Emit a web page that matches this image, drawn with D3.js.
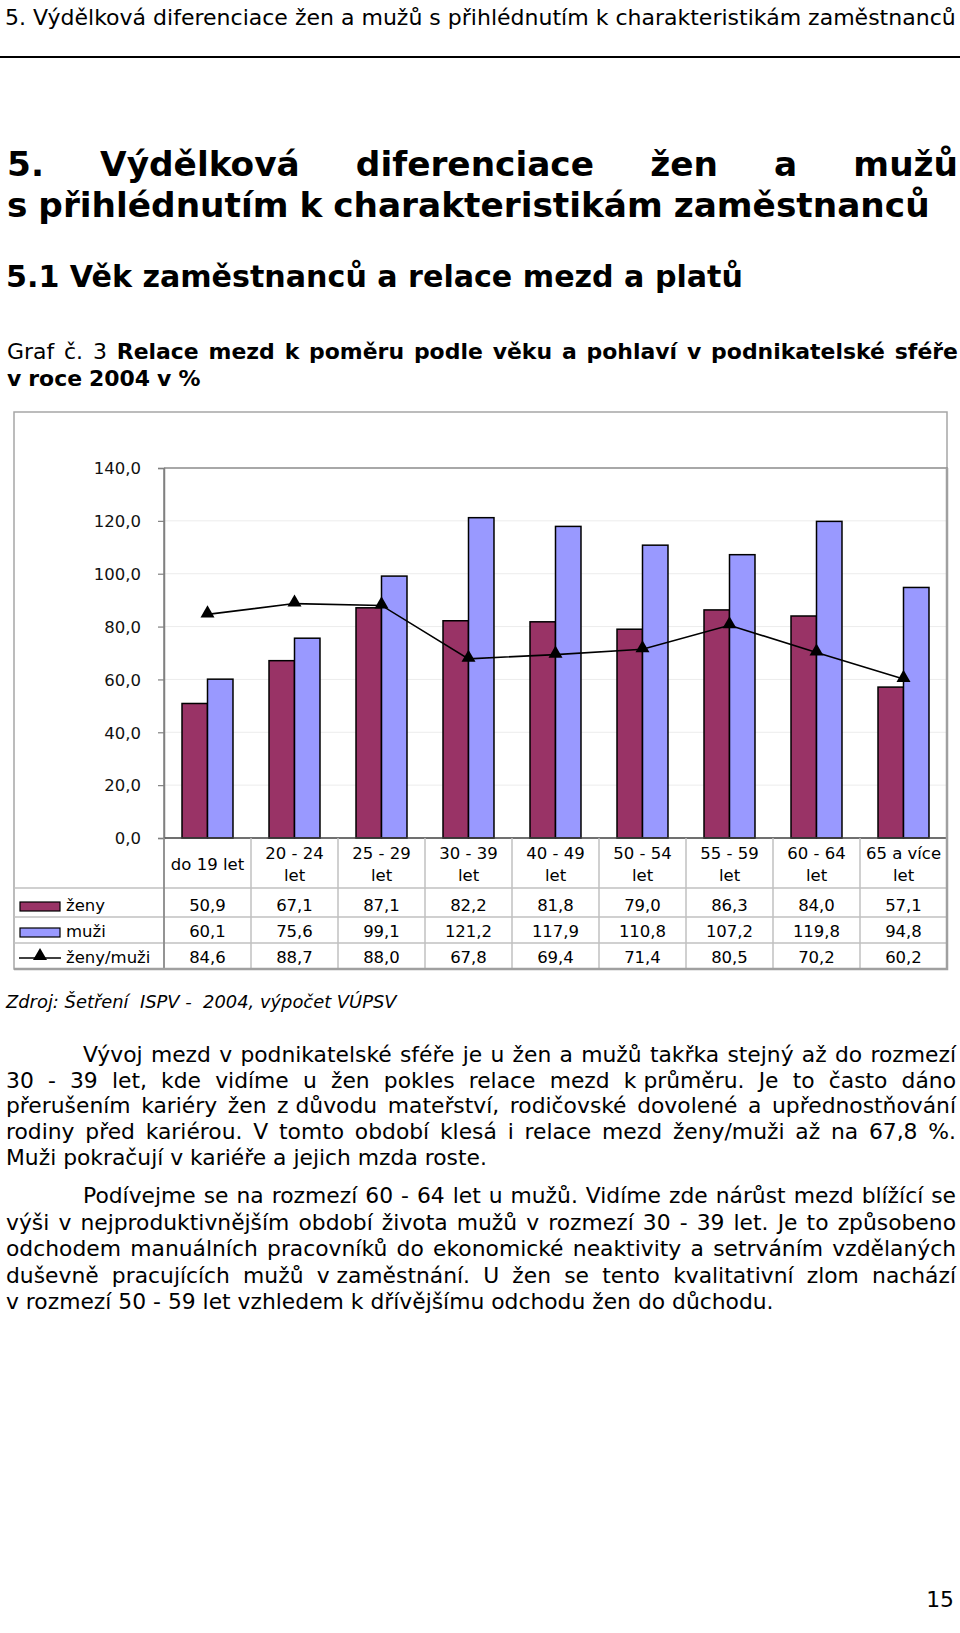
<!DOCTYPE html>
<html><head><meta charset="utf-8">
<script src="https://cdn.jsdelivr.net/npm/d3@7"></script>
<style>body{margin:0;background:#fff} svg{display:block}</style>
</head><body>
<svg id="page" width="960" height="1633"></svg>
<script>
// ---------- data ----------
const categories = ["do 19 let", "20 - 24\nlet", "25 - 29\nlet", "30 - 39\nlet", "40 - 49\nlet", "50 - 54\nlet", "55 - 59\nlet", "60 - 64\nlet", "65 a více\nlet"];
const seriesNames = ["ženy", "muži", "ženy/muži"];
const zeny = [50.9, 67.1, 87.1, 82.2, 81.8, 79.0, 86.3, 84.0, 57.1];
const muzi = [60.1, 75.6, 99.1, 121.2, 117.9, 110.8, 107.2, 119.8, 94.8];
const ratio = [84.6, 88.7, 88.0, 67.8, 69.4, 71.4, 80.5, 70.2, 60.2];
const yTicks = [0, 20, 40, 60, 80, 100, 120, 140];

const pageHeader = "5. Výdělková diferenciace žen a mužů s přihlédnutím k charakteristikám zaměstnanců";
const heading1 = ["5. Výdělková diferenciace žen a mužů", "s přihlédnutím k charakteristikám zaměstnanců"];
const heading2 = "5.1 Věk zaměstnanců a relace mezd a platů";
const grafLine1 = [["Graf", 0], ["č.", 0], ["3", 0], ["Relace", 1], ["mezd", 1], ["k", 1], ["poměru", 1], ["podle", 1], ["věku", 1], ["a", 1], ["pohlaví", 1], ["v", 1], ["podnikatelské", 1], ["sféře", 1]];
const grafLine2 = "v roce 2004 v %";
const source = "Zdroj: Šetření  ISPV -  2004, výpočet VÚPSV";
const para1 = [
  "Vývoj mezd v podnikatelské sféře je u žen a mužů takřka stejný až do rozmezí",
  "30 - 39 let, kde vidíme u žen pokles relace mezd k\u00a0průměru. Je to často dáno",
  "přerušením kariéry žen z\u00a0důvodu mateřství, rodičovské dovolené a upřednostňování",
  "rodiny před kariérou. V tomto období klesá i relace mezd ženy/muži až na 67,8 %.",
  "Muži pokračují v kariéře a jejich mzda roste."
];
const para2 = [
  "Podívejme se na rozmezí 60 - 64 let u mužů. Vidíme zde nárůst mezd blížící se",
  "výši v nejproduktivnějším období života mužů v rozmezí 30 - 39 let.  Je to způsobeno",
  "odchodem manuálních pracovníků do ekonomické neaktivity a setrváním vzdělaných",
  "duševně pracujících mužů v\u00a0zaměstnání. U žen se tento kvalitativní zlom nachází",
  "v rozmezí 50 - 59 let vzhledem k dřívějšímu odchodu žen do důchodu."
];
const pageNumber = "15";

// ---------- helpers ----------
const FONT = "'DejaVu Sans', Verdana, sans-serif";
const svg = d3.select("#page");
svg.append("rect").attr("width", 960).attr("height", 1633).attr("fill", "#fff");

function measure(text, fs, weight, style) {
  const t = svg.append("text").attr("font-family", FONT).attr("font-size", fs)
    .attr("font-weight", weight || "normal").attr("font-style", style || "normal")
    .style("white-space", "pre").text(text);
  const w = t.node().getComputedTextLength();
  t.remove();
  return w;
}
function fit(text, target, weight, style) {
  return 100 * target / measure(text, 100, weight, style);
}
function spaceW(fs, weight, style) {
  return measure("a a", fs, weight, style) - measure("aa", fs, weight, style);
}
// tokens: [[text, bold]]
function lineTokens(tokens, x0, x1, y, fs, justify, style) {
  const ws = tokens.map(([t, b]) => measure(t, fs, b ? "bold" : "normal", style));
  const sum = d3.sum(ws);
  const gap = justify && tokens.length > 1 ? (x1 - x0 - sum) / (tokens.length - 1) : spaceW(fs, "normal", style);
  let x = x0;
  tokens.forEach(([t, b], i) => {
    svg.append("text").attr("x", x).attr("y", y).attr("font-family", FONT)
      .attr("font-size", fs).attr("font-weight", b ? "bold" : "normal")
      .attr("font-style", style || "normal").style("white-space", "pre")
      .attr("fill", "#000").text(t);
    x += ws[i] + gap;
  });
}
function words(s, bold) { return s.split(/ +/).map(w => [w, bold]); }

// ---------- page text ----------
const fsHeader = fit(pageHeader, 951);
svg.append("text").attr("x", 5).attr("y", 25).attr("font-family", FONT).attr("font-size", fsHeader)
  .text(pageHeader);
svg.append("rect").attr("x", 0).attr("y", 56).attr("width", 960).attr("height", 2).attr("fill", "#000");

const fsH1 = fit(heading1[1], 927, "bold");
lineTokens(words(heading1[0], 1), 7, 958, 176, fsH1, true);
lineTokens(words(heading1[1], 1), 7, 958, 217, fsH1, false);

const fsH2 = fit(heading2, 737, "bold");
svg.append("text").attr("x", 6).attr("y", 287).attr("font-family", FONT).attr("font-size", fsH2)
  .attr("font-weight", "bold").text(heading2);

const fsGraf = fit(grafLine2, 196, "bold");
lineTokens(grafLine1, 7, 958, 359, fsGraf, true);
lineTokens(words(grafLine2, 1), 7, 958, 386, fsGraf, false);

// ---------- chart ----------
const frame = {x0: 14, x1: 947, y0: 412, y1: 969};
const plot = {x0: 164, x1: 947, y0: 468, y1: 838};
const rowY = [888, 917, 943, 969];

const x = d3.scaleBand().domain(categories).range([plot.x0, plot.x1]);
const bw = x.bandwidth();
const xs = d3.scaleBand().domain(["ženy", "muži"]).range([bw * 0.207, bw * 0.793]);
const y = d3.scaleLinear().domain([0, 140]).range([plot.y1, plot.y0]);

// outer frame
svg.append("rect").attr("x", frame.x0).attr("y", frame.y0).attr("width", frame.x1 - frame.x0)
  .attr("height", frame.y1 - frame.y0).attr("fill", "#fff").attr("stroke", "#a6a6a6").attr("stroke-width", 1.5);

// gridlines
svg.append("g").selectAll("line").data(yTicks.filter(d => d > 0 && d < 140)).join("line")
  .attr("x1", plot.x0).attr("x2", plot.x1).attr("y1", d => y(d)).attr("y2", d => y(d))
  .attr("stroke", "#ececec").attr("stroke-width", 1);
// plot border top/right
svg.append("path").attr("d", `M${plot.x0},${plot.y0}H${plot.x1}V${plot.y1}`)
  .attr("fill", "none").attr("stroke", "#8c8c8c").attr("stroke-width", 1.5);

// y axis
const yAxis = svg.append("g").attr("transform", `translate(${plot.x0},0)`)
  .call(d3.axisLeft(y).tickValues(yTicks).tickSize(6).tickPadding(17)
    .tickFormat(d => d3.format(".1f")(d).replace(".", ",")));
yAxis.select(".domain").attr("stroke", "#808080").attr("stroke-width", 1.5);
yAxis.selectAll(".tick line").attr("stroke", "#808080").attr("stroke-width", 1.2);
yAxis.selectAll(".tick text").attr("font-family", FONT).attr("font-size", 16.5).attr("fill", "#111").attr("dy", "0.35em");

// bars
const barData = categories.flatMap((c, i) => [
  {c, s: "ženy", v: zeny[i]}, {c, s: "muži", v: muzi[i]}
]);
const colors = {"ženy": "#993366", "muži": "#9999ff"};
svg.append("g").selectAll("rect").data(barData).join("rect")
  .attr("x", d => x(d.c) + xs(d.s)).attr("width", xs.bandwidth())
  .attr("y", d => y(d.v)).attr("height", d => y(0) - y(d.v))
  .attr("fill", d => colors[d.s]).attr("stroke", "#000").attr("stroke-width", 1.5);

// x axis line
svg.append("line").attr("x1", plot.x0).attr("x2", plot.x1).attr("y1", plot.y1).attr("y2", plot.y1)
  .attr("stroke", "#404040").attr("stroke-width", 1.5);

// ratio line
const line = d3.line().x((d, i) => x(categories[i]) + bw / 2).y(d => y(d));
svg.append("path").datum(ratio).attr("d", line).attr("fill", "none").attr("stroke", "#000").attr("stroke-width", 1.6);
const tri = d3.symbol().type(d3.symbolTriangle).size(85);
svg.append("g").selectAll("path").data(ratio).join("path")
  .attr("transform", (d, i) => `translate(${x(categories[i]) + bw / 2},${y(d) - 1})`)
  .attr("d", tri).attr("fill", "#000");

// data table grid
const grid = svg.append("g").attr("stroke", "#c0c0c0").attr("stroke-width", 1.5);
categories.forEach((c, i) => {
  grid.append("line").attr("x1", x(c)).attr("x2", x(c)).attr("y1", plot.y1).attr("y2", frame.y1);
});
rowY.slice(0, 3).forEach(r => {
  grid.append("line").attr("x1", frame.x0).attr("x2", frame.x1).attr("y1", r).attr("y2", r);
});
svg.append("line").attr("x1", plot.x0).attr("x2", plot.x0).attr("y1", plot.y0).attr("y2", frame.y1)
  .attr("stroke", "#808080").attr("stroke-width", 1.5);
svg.append("path").attr("d", `M${frame.x0},${frame.y1}H${frame.x1}V${frame.y0 + 56}`)
  .attr("fill", "none").attr("stroke", "#a0a0a0").attr("stroke-width", 2.5);

const TFS = 16.5;
// category labels
categories.forEach(c => {
  const lines = c.split("\n");
  const cx = x(c) + bw / 2;
  const ys = lines.length === 1 ? [870] : [859, 881];
  lines.forEach((l, k) => {
    svg.append("text").attr("x", cx).attr("y", ys[k]).attr("text-anchor", "middle")
      .attr("font-family", FONT).attr("font-size", TFS).text(l);
  });
});
// values
const rows = [zeny, muzi, ratio];
const baseY = [911, 937, 963];
rows.forEach((vals, r) => {
  svg.append("g").selectAll("text").data(vals).join("text")
    .attr("x", (d, i) => x(categories[i]) + bw / 2).attr("y", baseY[r])
    .attr("text-anchor", "middle").attr("font-family", FONT).attr("font-size", TFS)
    .text(d => d3.format(".1f")(d).replace(".", ","));
  svg.append("text").attr("x", 66).attr("y", baseY[r]).attr("font-family", FONT)
    .attr("font-size", TFS).text(seriesNames[r]);
});
// legend keys
svg.append("rect").attr("x", 20).attr("y", 902).attr("width", 40).attr("height", 9)
  .attr("fill", colors["ženy"]).attr("stroke", "#000").attr("stroke-width", 1.2);
svg.append("rect").attr("x", 20).attr("y", 928).attr("width", 40).attr("height", 9)
  .attr("fill", colors["muži"]).attr("stroke", "#000").attr("stroke-width", 1.2);
svg.append("line").attr("x1", 19).attr("x2", 61).attr("y1", 958).attr("y2", 958).attr("stroke", "#000").attr("stroke-width", 1.6);
svg.append("path").attr("transform", "translate(40,956)").attr("d", tri).attr("fill", "#000");

// ---------- source & paragraphs ----------
const fsSrc = fit(source, 391, "normal", "italic");
svg.append("text").attr("x", 6).attr("y", 1008).attr("font-family", FONT).attr("font-size", fsSrc)
  .attr("font-style", "italic").style("white-space", "pre").text(source);

const fsP = fit(para2[4], 768);
para1.forEach((l, i) => {
  lineTokens(words(l, 0), i === 0 ? 83 : 6, 956, 1062 + i * 25.7, fsP, i < para1.length - 1);
});
para2.forEach((l, i) => {
  lineTokens(words(l, 0), i === 0 ? 83 : 6, 956, 1203 + i * 26.5, fsP, i < para2.length - 1);
});

svg.append("text").attr("x", 954).attr("y", 1607).attr("text-anchor", "end").attr("font-family", FONT)
  .attr("font-size", fsP).text(pageNumber);
</script>
</body></html>
